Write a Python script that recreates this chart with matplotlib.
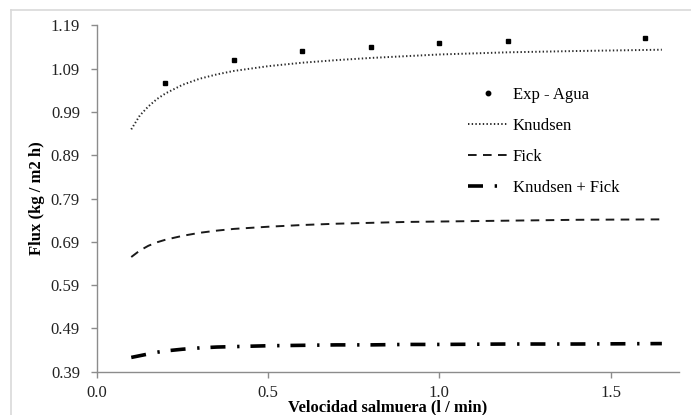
import matplotlib
matplotlib.use("Agg")
import matplotlib.pyplot as plt
from matplotlib.lines import Line2D

plt.rcParams['font.family'] = ['Liberation Serif', 'DejaVu Serif']
plt.rcParams['font.size'] = 12
plt.rcParams['lines.scale_dashes'] = False

# experimental points
x_exp = [0.2, 0.4, 0.6, 0.8, 1.0, 1.2, 1.6]
y_exp = [1.056, 1.110, 1.130, 1.140, 1.149, 1.153, 1.160]

# model curves
x_mod = [0.1, 0.125, 0.15, 0.175, 0.2, 0.25, 0.3, 0.35, 0.4, 0.5, 0.6,
         0.7, 0.8, 0.9, 1.0, 1.2, 1.4, 1.65]
y_knudsen = [0.950, 0.982, 1.003, 1.020, 1.033, 1.053, 1.067, 1.077, 1.085,
             1.096, 1.104, 1.110, 1.115, 1.119, 1.123, 1.128, 1.131, 1.134]
y_fick = [0.655, 0.670, 0.681, 0.689, 0.695, 0.704, 0.711, 0.716, 0.720,
          0.725, 0.729, 0.732, 0.734, 0.736, 0.737, 0.739, 0.741, 0.742]
y_kf = [0.423, 0.427, 0.431, 0.435, 0.438, 0.442, 0.445, 0.447, 0.448,
        0.450, 0.451, 0.452, 0.452, 0.453, 0.453, 0.454, 0.454, 0.455]

y_ticks = [0.39, 0.49, 0.59, 0.69, 0.79, 0.89, 0.99, 1.09, 1.19]
x_ticks = [0.0, 0.5, 1.0, 1.5]

fig = plt.figure(figsize=(6.91, 4.15), dpi=100)
ax = fig.add_axes([0.1404, 0.1043, 0.9826 - 0.1404, 0.9386 - 0.1043])

ax.plot(x_exp, y_exp, linestyle='none', marker='s', markersize=3.4,
        color='black', label='Exp - Agua')
ax.plot(x_mod, y_knudsen, color='#2a2a2a', lw=1.4, dashes=(1.0, 1.66),
        label='Knudsen')
ax.plot(x_mod, y_fick, color='#1a1a1a', lw=1.4, dashes=(6.2, 4.6),
        label='Fick')
ax.plot(x_mod, y_kf, color='black', lw=2.6, dashes=(10.8, 8.4, 1.7, 7.9),
        dash_capstyle='butt', label='Knudsen + Fick')

ax.set_xlim(0, 1.7)
ax.set_ylim(0.39, 1.19)
ax.set_xticks(x_ticks)
ax.set_xticklabels([f'{v:.1f}' for v in x_ticks])
ax.set_yticks(y_ticks)
ax.set_yticklabels([f'{v:.2f}' for v in y_ticks])

for s in ['top', 'right']:
    ax.spines[s].set_visible(False)
for s in ['left', 'bottom']:
    ax.spines[s].set_color('#8c8c8c')
    ax.spines[s].set_linewidth(1.0)
ax.tick_params(axis='both', colors='#8c8c8c', length=4.3, width=1.0,
               labelcolor='#222222', labelsize=12)
ax.tick_params(axis='y', pad=8)
ax.tick_params(axis='x', pad=5)

ax.set_xlabel('Velocidad salmuera (l / min)', fontweight='bold',
              fontsize=12, labelpad=-1.2)
ax.set_ylabel('Flux (kg / m2 h)', fontweight='bold', fontsize=12, labelpad=4)

leg = ax.legend(loc='upper left', bbox_to_anchor=(468 / 691, 1 - 87 / 415),
                bbox_transform=fig.transFigure, frameon=False, borderpad=0,
                borderaxespad=0, handlelength=2.4, handletextpad=0.3,
                labelspacing=0.9, fontsize=12)
leg.legend_handles[0].set_marker('o')
leg.legend_handles[0].set_markersize(3.2)

# light chart border
fig.add_artist(Line2D([11 / 691, 1], [1 - 10 / 415, 1 - 10 / 415],
                      color='#d9d9d9', lw=1.2, transform=fig.transFigure))
fig.add_artist(Line2D([11 / 691, 11 / 691], [0, 1 - 10 / 415],
                      color='#d9d9d9', lw=1.2, transform=fig.transFigure))

fig.savefig('out.png', dpi=100)
